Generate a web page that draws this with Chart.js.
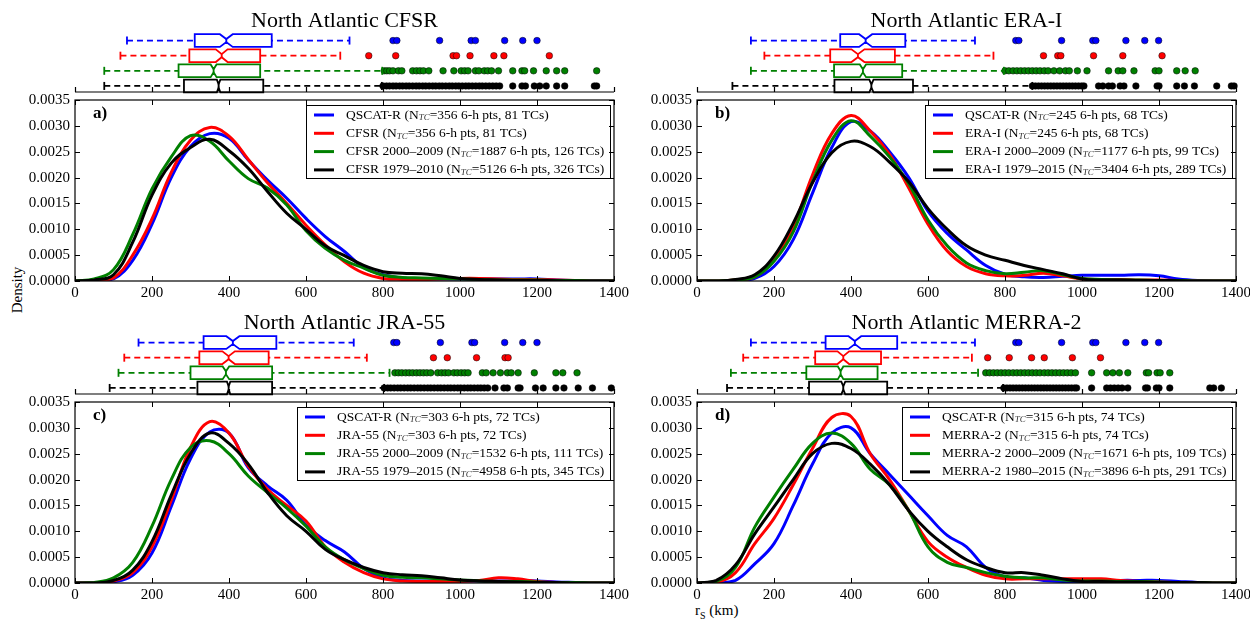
<!DOCTYPE html>
<html>
<head>
<meta charset="utf-8">
<title>North Atlantic TC size distributions</title>
<script src="https://cdn.jsdelivr.net/npm/chart.js@4.4.1/dist/chart.umd.min.js"></script>
<style>
  body { margin: 0; background: #fff; }
  #fig { position: relative; width: 1250px; height: 619px; overflow: hidden; font-family: "Liberation Serif", "DejaVu Serif", serif; color: #000; }
  #fig canvas { position: absolute; }
  .ylabel { position: absolute; left: 17px; top: 290px; font-size: 15px; transform: translate(-50%, -50%) rotate(-90deg); white-space: nowrap; }
  .xlabel { position: absolute; left: 695px; top: 602px; font-size: 15px; line-height: 17px; white-space: nowrap; }
  .xlabel sub { font-size: 10px; line-height: 0; }
</style>
</head>
<body>
<div id="fig">
  <div class="ylabel">Density</div>
  <div class="xlabel">r<sub>S</sub> (km)</div>
</div>
<script>
// radius grid (km) where the kernel density curves are sampled
var rsKm = [0, 50, 100, 150, 200, 250, 300, 350, 400, 450, 500, 550, 600, 650, 700,
            750, 800, 850, 900, 950, 1000, 1050, 1100, 1150, 1200, 1250, 1300, 1350, 1400];

var panelTitles = ['North Atlantic CFSR', 'North Atlantic ERA-I', 'North Atlantic JRA-55', 'North Atlantic MERRA-2'];
var panelLetters = ['a)', 'b)', 'c)', 'd)'];
var seriesNames = [
  ['QSCAT-R', 'CFSR', 'CFSR 2000\u20132009', 'CFSR 1979\u20132010'],
  ['QSCAT-R', 'ERA-I', 'ERA-I 2000\u20132009', 'ERA-I 1979\u20132015'],
  ['QSCAT-R', 'JRA-55', 'JRA-55 2000\u20132009', 'JRA-55 1979\u20132015'],
  ['QSCAT-R', 'MERRA-2', 'MERRA-2 2000\u20132009', 'MERRA-2 1980\u20132015']
];
// 6-hourly points and storm counts per series
var sampleSizes = [[356, 356, 1887, 5126], [245, 245, 1177, 3404], [303, 303, 1532, 4958], [315, 315, 1671, 3896]];
var tcCounts = [[81, 81, 126, 326], [68, 68, 99, 289], [72, 72, 111, 345], [74, 74, 109, 291]];

var xTicks = [0, 200, 400, 600, 800, 1000, 1200, 1400];

// density curves: QSCAT-R, reanalysis (matched), reanalysis 2000-2009, reanalysis full period
var densityCFSR = [
  [0, 0.00001, 0.00004, 0.00040, 0.00110, 0.00200, 0.00260, 0.00285, 0.00276, 0.00234, 0.00195, 0.00160, 0.00121, 0.00086, 0.00057, 0.00026, 0.00012, 0.00006, 0.00004, 0.00004, 0.00004, 0.00004, 0.00004, 0.00004, 0.00004, 0.00002, 0.00001, 0.000005, 0],
  [0, 0.00001, 0.00006, 0.00050, 0.00120, 0.00210, 0.00272, 0.00297, 0.00280, 0.00235, 0.00190, 0.00150, 0.00108, 0.00070, 0.00037, 0.00015, 0.00005, 0.00003, 0.00003, 0.00004, 0.00005, 0.00005, 0.00004, 0.00003, 0.00003, 0.00002, 0.00001, 0, 0],
  [0, 0.00004, 0.00022, 0.00090, 0.00178, 0.00240, 0.00281, 0.00270, 0.00232, 0.00198, 0.00180, 0.00147, 0.00097, 0.00063, 0.00040, 0.00025, 0.00011, 0.00007, 0.00006, 0.00005, 0.00004, 0.00003, 0.00002, 0.00002, 0.00002, 0.00001, 0.00001, 0, 0],
  [0, 0.00002, 0.00012, 0.00075, 0.00166, 0.00228, 0.00258, 0.00274, 0.00252, 0.00218, 0.00173, 0.00131, 0.00100, 0.00068, 0.00049, 0.00030, 0.00018, 0.00015, 0.00014, 0.00010, 0.00005, 0.00003, 0.00002, 0.00001, 0.00001, 0.000005, 0, 0, 0]
];
var densityERAI = [
  [0, 0, 0.00001, 0.00005, 0.00028, 0.00080, 0.00170, 0.00258, 0.00308, 0.00290, 0.00250, 0.00200, 0.00135, 0.00092, 0.00060, 0.00030, 0.00013, 0.00008, 0.00007, 0.00009, 0.00011, 0.00011, 0.00011, 0.00012, 0.00010, 0.00004, 0.00001, 0, 0],
  [0, 0, 0.00002, 0.00008, 0.00040, 0.00105, 0.00205, 0.00285, 0.00320, 0.00290, 0.00245, 0.00180, 0.00110, 0.00058, 0.00028, 0.00014, 0.00010, 0.00011, 0.00015, 0.00010, 0.00004, 0.00003, 0.00003, 0.00002, 0.00002, 0.00001, 0, 0, 0],
  [0, 0, 0.00002, 0.00008, 0.00038, 0.00095, 0.00192, 0.00272, 0.00310, 0.00280, 0.00240, 0.00188, 0.00118, 0.00068, 0.00035, 0.00020, 0.00014, 0.00017, 0.00020, 0.00012, 0.00005, 0.00003, 0.00002, 0.00002, 0.00001, 0.00001, 0, 0, 0],
  [0, 0, 0.00003, 0.00012, 0.00048, 0.00112, 0.00190, 0.00248, 0.00270, 0.00260, 0.00230, 0.00192, 0.00140, 0.00100, 0.00068, 0.00050, 0.00040, 0.00030, 0.00022, 0.00014, 0.00004, 0.00002, 0.00002, 0.00001, 0.00001, 0.000005, 0, 0, 0]
];
var densityJRA55 = [
  [0, 0, 0.00002, 0.00015, 0.00058, 0.00148, 0.00240, 0.00292, 0.00290, 0.00223, 0.00188, 0.00160, 0.00112, 0.00082, 0.00060, 0.00028, 0.00010, 0.00005, 0.00004, 0.00004, 0.00004, 0.00004, 0.00004, 0.00004, 0.00004, 0.00002, 0.00001, 0, 0],
  [0, 0, 0.00004, 0.00020, 0.00070, 0.00160, 0.00262, 0.00312, 0.00290, 0.00226, 0.00181, 0.00150, 0.00120, 0.00070, 0.00040, 0.00020, 0.00008, 0.00004, 0.00003, 0.00003, 0.00003, 0.00005, 0.00010, 0.00008, 0.00003, 0.00001, 0, 0, 0],
  [0, 0.00001, 0.00010, 0.00040, 0.00110, 0.00200, 0.00262, 0.00275, 0.00250, 0.00207, 0.00175, 0.00145, 0.00110, 0.00070, 0.00045, 0.00028, 0.00015, 0.00011, 0.00010, 0.00008, 0.00006, 0.00004, 0.00003, 0.00003, 0.00002, 0.00001, 0.00001, 0, 0],
  [0, 0, 0.00005, 0.00025, 0.00080, 0.00170, 0.00250, 0.00290, 0.00270, 0.00230, 0.00175, 0.00130, 0.00100, 0.00065, 0.00045, 0.00030, 0.00020, 0.00016, 0.00014, 0.00010, 0.00006, 0.00004, 0.00003, 0.00002, 0.00001, 0.00001, 0, 0, 0]
];
var densityMERRA2 = [
  [0, 0, 0.00005, 0.00037, 0.00076, 0.00150, 0.00230, 0.00290, 0.00300, 0.00250, 0.00210, 0.00170, 0.00130, 0.00092, 0.00070, 0.00030, 0.00012, 0.00010, 0.00005, 0.00003, 0.00003, 0.00004, 0.00005, 0.00005, 0.00005, 0.00003, 0.00001, 0, 0],
  [0, 0.00001, 0.00020, 0.00076, 0.00125, 0.00190, 0.00260, 0.00320, 0.00322, 0.00250, 0.00200, 0.00140, 0.00080, 0.00050, 0.00030, 0.00015, 0.00008, 0.00008, 0.00008, 0.00008, 0.00008, 0.00008, 0.00005, 0.00003, 0.00002, 0.00001, 0.00001, 0, 0],
  [0, 0.00003, 0.00030, 0.00108, 0.00166, 0.00220, 0.00270, 0.00290, 0.00270, 0.00220, 0.00190, 0.00140, 0.00070, 0.00040, 0.00030, 0.00020, 0.00013, 0.00010, 0.00010, 0.00006, 0.00004, 0.00004, 0.00003, 0.00003, 0.00002, 0.00001, 0.00001, 0, 0],
  [0, 0.00005, 0.00035, 0.00095, 0.00147, 0.00200, 0.00250, 0.00270, 0.00260, 0.00230, 0.00190, 0.00140, 0.00100, 0.00070, 0.00045, 0.00030, 0.00020, 0.00020, 0.00015, 0.00008, 0.00003, 0.00003, 0.00002, 0.00002, 0.00001, 0.00001, 0.00001, 0, 0]
];
var densities = [densityCFSR, densityERAI, densityJRA55, densityMERRA2];

// box plot statistics (km), one row per panel, one entry per series
var whiskerLow = [[135, 118, 76, 76], [140, 175, 140, 92], [165, 128, 113, 90], [140, 120, 88, 78]];
var quart1 = [[311, 297, 269, 283], [372, 346, 356, 357], [334, 323, 300, 318], [334, 307, 284, 291]];
var medians = [[393, 381, 360, 373], [438, 418, 431, 453], [410, 399, 392, 399], [410, 380, 373, 380]];
var quart3 = [[511, 481, 481, 489], [541, 514, 533, 561], [523, 503, 512, 512], [520, 478, 469, 494]];
var whiskerHigh = [[713, 689, 798, 797], [722, 770, 797, 871], [724, 758, 817, 803], [722, 714, 730, 795]];

// outliers beyond the whiskers
var fliersCFSR = [
  [826, 836, 947, 1029, 1040, 1116, 1163, 1200],
  [763, 833, 982, 991, 1026, 1088, 1114, 1232],
  [803, 810, 817, 826, 840, 849, 877, 887, 896, 905, 919, 956, 984, 1003, 1012, 1021, 1040, 1049, 1063, 1072, 1082, 1100, 1137, 1161, 1168, 1191, 1224, 1251, 1272, 1355],
  [800, 809, 817, 826, 834, 843, 851, 860, 868, 877, 886, 894, 903, 911, 920, 929, 937, 946, 954, 963, 972, 980, 989, 997, 1006, 1015, 1023, 1032, 1041, 1050, 1058, 1067, 1076, 1085, 1094, 1103, 1137, 1161, 1170, 1193, 1207, 1224, 1251, 1272, 1349, 1355]
];
var fliersERAI = [
  [828, 836, 947, 1028, 1036, 1114, 1163, 1199],
  [900, 937, 945, 1030, 1106, 1208],
  [800, 810, 821, 831, 841, 851, 861, 871, 881, 891, 902, 912, 927, 942, 957, 967, 988, 1013, 1069, 1094, 1106, 1135, 1190, 1200, 1246, 1268, 1294],
  [871, 879, 887, 895, 903, 911, 919, 927, 935, 943, 951, 959, 967, 975, 983, 991, 999, 1005, 1043, 1054, 1069, 1079, 1099, 1109, 1140, 1195, 1200, 1246, 1266, 1292, 1350, 1388, 1395]
];
var fliersJRA55 = [
  [828, 836, 949, 1031, 1038, 1116, 1163, 1200],
  [931, 967, 1043, 1117, 1125],
  [831, 840, 849, 859, 868, 877, 887, 896, 905, 914, 924, 942, 952, 961, 970, 984, 993, 1003, 1012, 1021, 1058, 1068, 1086, 1105, 1123, 1133, 1151, 1193, 1249, 1267, 1304],
  [803, 812, 820, 829, 838, 846, 855, 864, 872, 881, 890, 898, 907, 916, 924, 933, 942, 950, 959, 968, 976, 985, 994, 1002, 1011, 1020, 1028, 1037, 1046, 1054, 1063, 1072, 1091, 1114, 1123, 1151, 1156, 1196, 1216, 1249, 1270, 1307, 1344, 1393]
];
var fliersMERRA2 = [
  [828, 836, 947, 1028, 1036, 1114, 1163, 1199],
  [755, 811, 869, 902, 975, 1048],
  [750, 760, 770, 780, 790, 800, 810, 821, 831, 841, 851, 861, 871, 881, 891, 902, 912, 922, 932, 942, 952, 962, 972, 983, 1025, 1064, 1080, 1097, 1119, 1167, 1173, 1195, 1203, 1228],
  [797, 805, 813, 821, 829, 837, 845, 853, 861, 869, 877, 885, 893, 901, 909, 917, 925, 933, 941, 949, 957, 965, 973, 981, 986, 1025, 1064, 1074, 1084, 1094, 1104, 1119, 1165, 1170, 1193, 1200, 1228, 1332, 1342, 1362]
];
var fliers = [fliersCFSR, fliersERAI, fliersJRA55, fliersMERRA2];

var colors = ['#0000ff', '#ff0000', '#008000', '#000000'];
var SERIF = '"Liberation Serif", "DejaVu Serif", serif';

// canvas placement of each panel (left, top of the box strip, width, y-axis width)
var layout = [
  { left: 0, top: 0, width: 630, axisW: 75 },
  { left: 630, top: 0, width: 620, axisW: 67 },
  { left: 0, top: 302, width: 630, axisW: 75 },
  { left: 630, top: 302, width: 620, axisW: 67 }
];
var PLOT_W = 539, PLOT_H = 181;

// axes frame with inward ticks on all four sides
var frameTicks = {
  id: 'frameTicks',
  afterDraw: function (chart) {
    var ctx = chart.ctx, a = chart.chartArea, x = chart.scales.x, y = chart.scales.y;
    ctx.save();
    ctx.strokeStyle = '#000';
    ctx.lineWidth = 1.2;
    ctx.strokeRect(a.left, a.top, a.right - a.left, a.bottom - a.top);
    ctx.beginPath();
    x.ticks.forEach(function (t) {
      var px = Math.round(x.getPixelForValue(t.value)) + 0.5;
      ctx.moveTo(px, a.bottom); ctx.lineTo(px, a.bottom - 5);
      ctx.moveTo(px, a.top); ctx.lineTo(px, a.top + 5);
    });
    y.ticks.forEach(function (t) {
      var py = Math.round(y.getPixelForValue(t.value)) + 0.5;
      ctx.moveTo(a.left, py); ctx.lineTo(a.left + 5, py);
      ctx.moveTo(a.right, py); ctx.lineTo(a.right - 5, py);
    });
    ctx.lineWidth = 1;
    ctx.stroke();
    ctx.restore();
  }
};

// legend box in the upper right of each density panel, plus the panel letter
var legendBox = {
  id: 'legendBox',
  afterDatasetsDraw: function (chart, args, opts) {
    var p = opts.panel, ctx = chart.ctx, a = chart.chartArea;
    var main = '13.5px ' + SERIF, sub = 'italic 9px ' + SERIF;
    var rows = seriesNames[p].map(function (name, s) {
      return [name + ' (N', 'TC', '=' + sampleSizes[p][s] + ' 6-h pts, ' + tcCounts[p][s] + ' TCs)'];
    });
    ctx.save();
    var w = 0;
    rows.forEach(function (r) {
      ctx.font = main;
      var t = ctx.measureText(r[0]).width + ctx.measureText(r[2]).width;
      ctx.font = sub;
      t += ctx.measureText(r[1]).width;
      w = Math.max(w, t);
    });
    var boxW = Math.round(8 + 20 + 12 + w + 6), boxH = 73;
    var left = Math.round(a.right - 4 - boxW), top = Math.round(a.top + 5);
    ctx.fillStyle = '#fff';
    ctx.fillRect(left, top, boxW, boxH);
    ctx.strokeStyle = '#000';
    ctx.lineWidth = 1;
    ctx.strokeRect(left + 0.5, top + 0.5, boxW, boxH);
    ctx.textBaseline = 'middle';
    rows.forEach(function (r, s) {
      var cy = top + 10 + s * 18.3;
      ctx.strokeStyle = colors[s];
      ctx.lineWidth = 3;
      ctx.beginPath();
      ctx.moveTo(left + 8, cy); ctx.lineTo(left + 28, cy);
      ctx.stroke();
      var tx = left + 40;
      ctx.fillStyle = '#000';
      ctx.font = main;
      ctx.fillText(r[0], tx, cy);
      tx += ctx.measureText(r[0]).width;
      ctx.font = sub;
      ctx.fillStyle = '#333';
      ctx.fillText(r[1], tx, cy + 3);
      tx += ctx.measureText(r[1]).width;
      ctx.font = main;
      ctx.fillStyle = '#000';
      ctx.fillText(r[2], tx, cy);
    });
    ctx.font = 'bold 17px ' + SERIF;
    ctx.textBaseline = 'middle';
    ctx.fillText(panelLetters[p], a.left + 18, a.top + 14);
    ctx.restore();
  }
};

// notched boxes, title and bottom spine of the box strips
var notchedBoxes = {
  id: 'notchedBoxes',
  afterDatasetsDraw: function (chart, args, opts) {
    var p = opts.panel, ctx = chart.ctx, a = chart.chartArea, x = chart.scales.x, y = chart.scales.y;
    var X = function (v) { return x.getPixelForValue(v); };
    ctx.save();
    for (var s = 0; s < 4; s++) {
      var row = 4 - s;
      var q1 = quart1[p][s], q3 = quart3[p][s], med = medians[p][s];
      var notch = 1.57 * (q3 - q1) / Math.sqrt(sampleSizes[p][s]);
      var top = y.getPixelForValue(row + 0.42), bot = y.getPixelForValue(row - 0.42);
      var depth = (bot - top) * 0.38;
      ctx.beginPath();
      ctx.moveTo(X(q1), top);
      ctx.lineTo(X(med - notch), top);
      ctx.lineTo(X(med), top + depth);
      ctx.lineTo(X(med + notch), top);
      ctx.lineTo(X(q3), top);
      ctx.lineTo(X(q3), bot);
      ctx.lineTo(X(med + notch), bot);
      ctx.lineTo(X(med), bot - depth);
      ctx.lineTo(X(med - notch), bot);
      ctx.lineTo(X(q1), bot);
      ctx.closePath();
      ctx.fillStyle = '#fff';
      ctx.fill();
      ctx.strokeStyle = colors[s];
      ctx.lineWidth = 1.8;
      ctx.stroke();
      ctx.beginPath();
      ctx.moveTo(X(med), top + depth);
      ctx.lineTo(X(med), bot - depth);
      ctx.stroke();
    }
    // bottom spine with upward ticks
    ctx.strokeStyle = '#000';
    ctx.lineWidth = 1.2;
    ctx.beginPath();
    ctx.moveTo(a.left, a.bottom); ctx.lineTo(a.right, a.bottom);
    xTicks.forEach(function (v) {
      var px = Math.round(X(v)) + 0.5;
      ctx.moveTo(px, a.bottom); ctx.lineTo(px, a.bottom - 5);
    });
    ctx.stroke();
    ctx.fillStyle = '#000';
    ctx.font = '22px ' + SERIF;
    ctx.textAlign = 'center';
    ctx.textBaseline = 'middle';
    ctx.fillText(panelTitles[p], (a.left + a.right) / 2, a.top - 12);
    ctx.restore();
  }
};

function addCanvas(left, top, w, h) {
  var c = document.createElement('canvas');
  c.width = w; c.height = h;
  c.style.left = left + 'px'; c.style.top = top + 'px';
  c.style.width = w + 'px'; c.style.height = h + 'px';
  document.getElementById('fig').appendChild(c);
  return c;
}

function drawBoxStrip(p) {
  var L = layout[p];
  var canvas = addCanvas(L.left, L.top, L.width, 100);
  var datasets = [];
  for (var s = 0; s < 4; s++) {
    var row = 4 - s;
    datasets.push({
      data: [{ x: whiskerLow[p][s], y: row }, { x: whiskerHigh[p][s], y: row }],
      showLine: true,
      borderColor: colors[s],
      borderWidth: 1.8,
      borderDash: [6, 4],
      pointStyle: 'line',
      pointRotation: 90,
      pointRadius: 4,
      pointBorderWidth: 1.8,
      pointBorderColor: colors[s],
      clip: false
    });
    datasets.push({
      data: fliers[p][s].map(function (v) { return { x: v, y: row }; }),
      pointRadius: 3.3,
      pointBackgroundColor: colors[s],
      pointBorderColor: '#000',
      pointBorderWidth: 0.5,
      clip: false
    });
  }
  new Chart(canvas.getContext('2d'), {
    type: 'scatter',
    data: { datasets: datasets },
    options: {
      responsive: false,
      animation: false,
      events: [],
      layout: { autoPadding: false, padding: { left: L.axisW, right: L.width - L.axisW - PLOT_W, top: 33, bottom: 8 } },
      scales: {
        x: { type: 'linear', min: 0, max: 1400, display: false },
        y: { type: 'linear', min: 0.6, max: 4.5, display: false }
      },
      plugins: { legend: { display: false }, tooltip: { enabled: false }, notchedBoxes: { panel: p } }
    },
    plugins: [notchedBoxes]
  });
}

function drawDensity(p) {
  var L = layout[p];
  var canvas = addCanvas(L.left, L.top + 88, L.width, 12 + PLOT_H + 28);
  var datasets = densities[p].map(function (vals, s) {
    return {
      label: seriesNames[p][s],
      data: vals.map(function (v, i) { return { x: rsKm[i], y: v }; }),
      borderColor: colors[s],
      borderWidth: 3,
      pointRadius: 0,
      tension: 0.4,
      fill: false,
      order: 4 - s
    };
  });
  new Chart(canvas.getContext('2d'), {
    type: 'line',
    data: { datasets: datasets },
    options: {
      responsive: false,
      animation: false,
      events: [],
      layout: { autoPadding: false, padding: { left: 0, right: L.width - L.axisW - PLOT_W, top: 12, bottom: 0 } },
      scales: {
        x: {
          type: 'linear', min: 0, max: 1400,
          grid: { display: false, drawTicks: false },
          border: { display: false },
          ticks: { stepSize: 200, padding: 3, color: '#000', font: { family: SERIF, size: 15 }, maxRotation: 0,
                   callback: function (v) { return String(v); } },
          afterFit: function (scale) { scale.height = 28; scale.paddingLeft = 0; scale.paddingRight = 0; }
        },
        y: {
          min: 0, max: 0.0035,
          grid: { display: false, drawTicks: false },
          border: { display: false },
          ticks: { stepSize: 0.0005, padding: 5, color: '#000', font: { family: SERIF, size: 15 },
                   callback: function (v) { return v.toFixed(4); } },
          afterFit: function (scale) { scale.width = L.axisW; scale.paddingTop = 0; scale.paddingBottom = 0; }
        }
      },
      plugins: { legend: { display: false }, tooltip: { enabled: false }, legendBox: { panel: p } }
    },
    plugins: [frameTicks, legendBox]
  });
}

for (var p = 0; p < 4; p++) {
  drawDensity(p);
  drawBoxStrip(p);
}
</script>
</body>
</html>
